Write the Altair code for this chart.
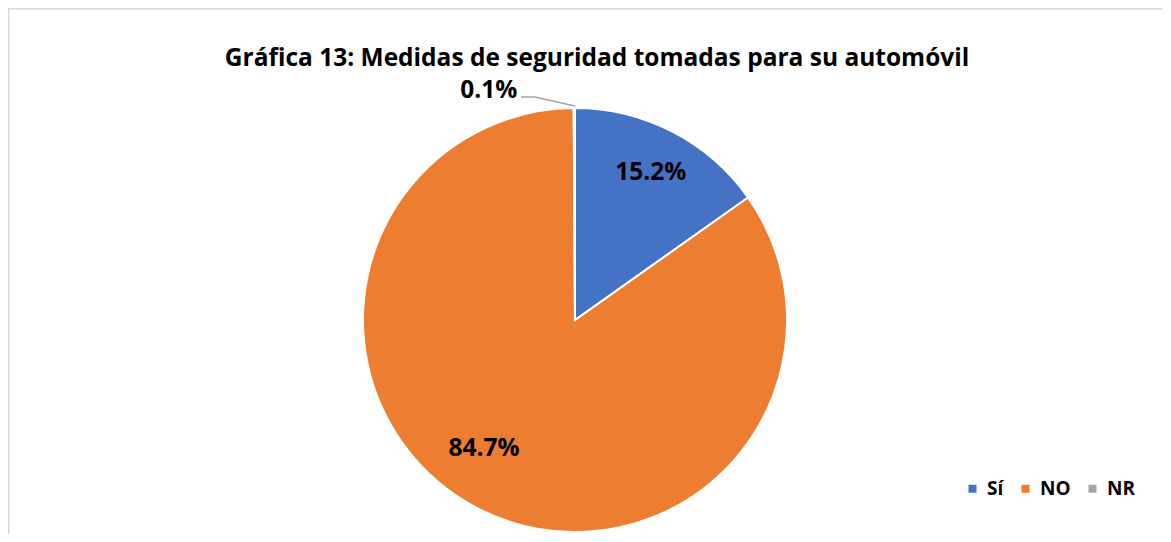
import math
import altair as alt
import pandas as pd

categories = ["Sí", "NO", "NR"]
values = [15.2, 84.7, 0.1]
labels = ["15.2%", "84.7%", "0.1%"]
colors = ["#4472C4", "#ED7D31", "#A5A5A5"]

# label placement (style): radius in px and angular nudge in degrees
label_r = [165, 158, 245]
label_nudge = [0, 8, -20.4]

total = sum(values)
cum = 0
mids = []
for v, n in zip(values, label_nudge):
    mids.append((cum + v / 2) / total * 2 * math.pi + math.radians(n))
    cum += v

df = pd.DataFrame({
    "cat": categories,
    "val": values,
    "label": labels,
    "order": [1, 2, 3],
    "mid": mids,
    "r": label_r,
})

CX, CY, R = 567, 312, 212
W, H = 1155, 526
FONT = "Open Sans"

color_scale = alt.Scale(domain=categories, range=colors)

pie = alt.Chart(df).mark_arc(outerRadius=R, stroke="white", strokeWidth=2).encode(
    theta=alt.Theta("val:Q", stack=True),
    order=alt.Order("order:Q"),
    color=alt.Color("cat:N", scale=color_scale, sort=categories,
                    legend=alt.Legend(title=None, orient="none", direction="horizontal",
                                      legendX=955, legendY=471, symbolType="square",
                                      symbolSize=64, labelFont=FONT, labelFontSize=19,
                                      labelFontWeight="bold", labelColor="#000000",
                                      labelOffset=5, columnPadding=12, padding=0,
                                      symbolStrokeWidth=0)),
    x=alt.value(CX), y=alt.value(CY),
)

text = alt.Chart(df).mark_text(font=FONT, fontSize=24.5, fontWeight="bold", color="#000000",
                               baseline="middle", align="center").encode(
    theta=alt.Theta("mid:Q", scale=None),
    radius=alt.Radius("r:Q", scale=None),
    text="label:N",
    x=alt.value(CX), y=alt.value(CY),
)

leader1 = alt.Chart(df.head(1)).mark_rule(color="#A5A5A5", strokeWidth=1.5).encode(
    x=alt.value(513), x2=alt.value(527), y=alt.value(89), y2=alt.value(89))
leader2 = alt.Chart(df.head(1)).mark_rule(color="#A5A5A5", strokeWidth=1.5).encode(
    x=alt.value(527), x2=alt.value(567), y=alt.value(89), y2=alt.value(98))

border_top = alt.Chart(df.head(1)).mark_rule(color="#D9D9D9", strokeWidth=1.5).encode(
    x=alt.value(0), x2=alt.value(W + 8), y=alt.value(0.75), y2=alt.value(0.75))
border_left = alt.Chart(df.head(1)).mark_rule(color="#D9D9D9", strokeWidth=1.5).encode(
    x=alt.value(0.75), x2=alt.value(0.75), y=alt.value(0), y2=alt.value(H + 8))

title = alt.Chart(df.head(1)).mark_text(font=FONT, fontSize=24.5, fontWeight="bold",
                                        color="#000000", align="center", baseline="alphabetic").encode(
    x=alt.value(589), y=alt.value(58),
    text=alt.value("Gráfica 13: Medidas de seguridad tomadas para su automóvil"),
)

chart = alt.layer(border_top, border_left, pie, text, leader1, leader2, title).properties(
    width=W, height=H, padding=0, autosize=alt.AutoSizeParams(type="none"),
).configure_view(strokeWidth=0)

chart.save("out.html", embed_options={"renderer": "svg", "actions": False})
